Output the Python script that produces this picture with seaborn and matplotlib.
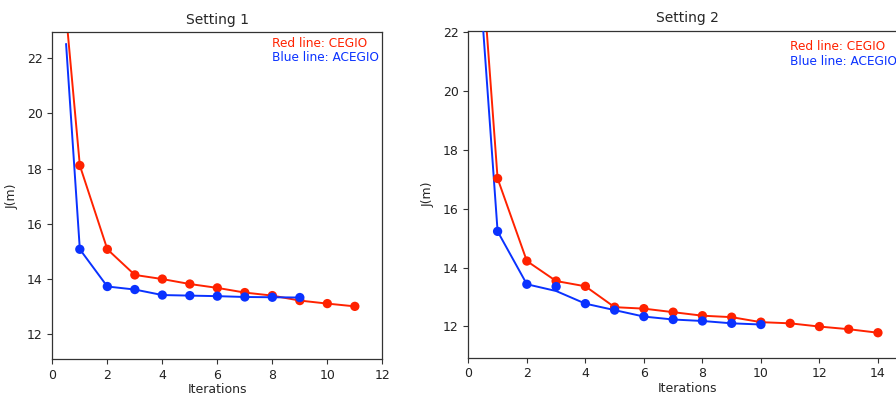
import numpy as np
import pandas as pd
import matplotlib
matplotlib.use("Agg")
import matplotlib.pyplot as plt
import seaborn as sns

# ---- data ----
# Setting 1
s1_line_x = [0.5, 1, 2, 3, 4, 5, 6, 7, 8, 9, 10, 11]
s1_red_line = [23.6, 18.11, 15.07, 14.14, 13.99, 13.81, 13.67, 13.50, 13.39, 13.21, 13.10, 13.00]
s1_red_pts_x = [1, 2, 3, 4, 5, 6, 7, 8, 9, 10, 11]
s1_red_pts = [18.11, 15.07, 14.14, 13.99, 13.81, 13.67, 13.50, 13.39, 13.21, 13.10, 13.00]
s1_blue_line_x = [0.5, 1, 2, 3, 4, 5, 6, 7, 8, 9]
s1_blue_line = [22.52, 15.07, 13.72, 13.61, 13.41, 13.39, 13.37, 13.34, 13.33, 13.32]
s1_blue_pts_x = [1, 2, 3, 4, 5, 6, 7, 8, 9]
s1_blue_pts = [15.07, 13.72, 13.61, 13.41, 13.39, 13.37, 13.34, 13.33, 13.32]

# Setting 2
s2_line_x = [0.5, 1, 2, 3, 4, 5, 6, 7, 8, 9, 10, 11, 12, 13, 14]
s2_red_line = [23.8, 17.03, 14.22, 13.54, 13.36, 12.65, 12.60, 12.48, 12.36, 12.31, 12.14, 12.10, 11.99, 11.90, 11.78]
s2_red_pts_x = [1, 2, 3, 4, 5, 6, 7, 8, 9, 10, 11, 12, 13, 14]
s2_red_pts = [17.03, 14.22, 13.54, 13.36, 12.65, 12.60, 12.48, 12.36, 12.31, 12.14, 12.10, 11.99, 11.90, 11.78]
s2_blue_line_x = [0.5, 1, 2, 3, 4, 5, 6, 7, 8, 9, 10]
s2_blue_line = [22.2, 15.23, 13.43, 13.20, 12.77, 12.55, 12.33, 12.23, 12.18, 12.10, 12.06]
s2_blue_pts_x = [1, 2, 3, 4, 5, 6, 7, 8, 9, 10]
s2_blue_pts = [15.23, 13.43, 13.35, 12.77, 12.55, 12.33, 12.23, 12.18, 12.10, 12.06]

titles = ["Setting 1", "Setting 2"]
xlabel = "Iterations"
ylabel = "J(m)"
red_label = "Red line: CEGIO"
blue_label = "Blue line: ACEGIO"

RED = "#ff2200"
BLUE = "#0a32ff"

sns.set_style("ticks")
plt.rcParams["font.family"] = ["DejaVu Sans"]
plt.rcParams["axes.edgecolor"] = "#333333"
plt.rcParams["xtick.color"] = "#333333"
plt.rcParams["ytick.color"] = "#333333"
plt.rcParams["xtick.labelcolor"] = "#222222"
plt.rcParams["ytick.labelcolor"] = "#222222"

fig = plt.figure(figsize=(8.96, 3.96), dpi=100)
ax1 = fig.add_axes([0.0584, 0.0927, 0.3683, 0.8257])
ax2 = fig.add_axes([0.5227, 0.0967, 0.4898, 0.8258])

def draw(ax, lx_r, ly_r, px_r, py_r, lx_b, ly_b, px_b, py_b):
    sns.lineplot(x=lx_r, y=ly_r, ax=ax, color=RED, lw=1.4, sort=False, zorder=2)
    sns.lineplot(x=lx_b, y=ly_b, ax=ax, color=BLUE, lw=1.4, sort=False, zorder=3)
    sns.scatterplot(x=px_r, y=py_r, ax=ax, color=RED, s=45, edgecolor="none", zorder=4)
    sns.scatterplot(x=px_b, y=py_b, ax=ax, color=BLUE, s=45, edgecolor="none", zorder=5)

draw(ax1, s1_line_x, s1_red_line, s1_red_pts_x, s1_red_pts,
     s1_blue_line_x, s1_blue_line, s1_blue_pts_x, s1_blue_pts)
draw(ax2, s2_line_x, s2_red_line, s2_red_pts_x, s2_red_pts,
     s2_blue_line_x, s2_blue_line, s2_blue_pts_x, s2_blue_pts)

ax1.set_xlim(0, 12)
ax1.set_ylim(11.08, 22.94)
ax1.set_xticks([0, 2, 4, 6, 8, 10, 12])
ax1.set_yticks([12, 14, 16, 18, 20, 22])
ax2.set_xlim(0, 15)
ax2.set_ylim(10.93, 22.06)
ax2.set_xticks([0, 2, 4, 6, 8, 10, 12, 14])
ax2.set_yticks([12, 14, 16, 18, 20, 22])

for ax, t in zip([ax1, ax2], titles):
    ax.set_title(t, fontsize=10, pad=6)
    ax.set_xlabel(xlabel, fontsize=9, labelpad=1)
    ax.set_ylabel(ylabel, fontsize=9, labelpad=6)
    ax.tick_params(labelsize=9, length=3.5, width=0.8)
    for sp in ax.spines.values():
        sp.set_linewidth(0.9)

ax1.text(8, 22.52, red_label, color=RED, fontsize=8.7, va="center", ha="left")
ax1.text(8, 22.02, blue_label, color=BLUE, fontsize=8.7, va="center", ha="left")
ax2.text(11, 21.51, red_label, color=RED, fontsize=8.7, va="center", ha="left", clip_on=False)
ax2.text(11, 21.0, blue_label, color=BLUE, fontsize=8.7, va="center", ha="left", clip_on=False)

fig.savefig("out.png", dpi=100)
